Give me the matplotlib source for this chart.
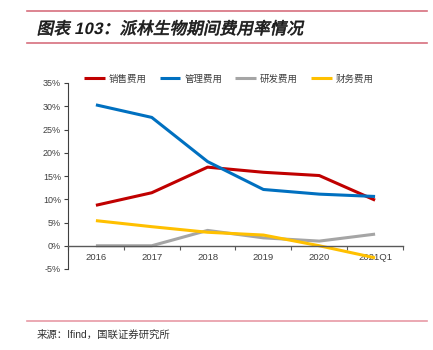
import numpy as np
import matplotlib.pyplot as plt
from matplotlib.textpath import TextPath
from matplotlib.patches import PathPatch
from matplotlib.font_manager import FontProperties
from matplotlib.transforms import Affine2D
from matplotlib.lines import Line2D

plt.rcParams['font.family'] = ['Liberation Sans', 'Noto Sans CJK SC', 'DejaVu Sans']

# data (% of revenue)
years = ['2016', '2017', '2018', '2019', '2020', '2021Q1']
sales = [8.7, 11.4, 16.9, 15.8, 15.1, 9.8]
admin = [30.3, 27.6, 18.1, 12.1, 11.1, 10.6]
rnd = [0.0, 0.0, 3.3, 1.7, 1.0, 2.5]
finance = [5.4, 4.1, 2.9, 2.3, 0.0, -2.6]
names = ['销售费用', '管理费用', '研发费用', '财务费用']
colors = ['#C00000', '#0070C0', '#A5A5A5', '#FFC000']
yticks = [-5, 0, 5, 10, 15, 20, 25, 30, 35]

W, H = 433, 350
fig = plt.figure(figsize=(W / 100, H / 100), dpi=100)
ax = fig.add_axes([68 / W, 1 - 269 / H, (403 - 68) / W, (269 - 83) / H])

x = np.arange(len(years))
for vals, name, c in zip([sales, admin, rnd, finance], names, colors):
    ax.plot(x, vals, color=c, lw=2.2, label=name, solid_capstyle='butt')

ax.set_xlim(-0.5, len(years) - 0.5)
ax.set_ylim(-5, 35)

for s in ['top', 'right']:
    ax.spines[s].set_visible(False)
ax.spines['bottom'].set_position(('data', 0))
ax.spines['bottom'].set_color('#595959')
ax.spines['left'].set_color('#404040')
ax.spines['bottom'].set_linewidth(1.0)
ax.spines['left'].set_linewidth(0.8)

# tick marks on category boundaries, labels at centres
ax.set_xticks(np.arange(-0.5, len(years)))
ax.set_xticklabels([])
ax.set_xticks(x, minor=True)
ax.set_xticklabels(years, minor=True)
ax.tick_params(axis='x', which='major', direction='out', length=3, color='#595959')
ax.tick_params(axis='x', which='minor', length=0, pad=5, labelsize=6.8, labelcolor='#404040')

ax.set_yticks(yticks)
ax.set_yticklabels([f'{v}%' for v in yticks])
ax.tick_params(axis='y', direction='out', length=3, pad=2, labelsize=6.5,
               labelcolor='#404040', color='#404040')

fig.legend(loc='center left', bbox_to_anchor=(80 / W, 1 - 79 / H), ncol=4,
           frameon=False, fontsize=6.8, handlelength=2.2, handletextpad=0.4,
           columnspacing=1.4, labelcolor='#404040', borderaxespad=0)

# title with faked italic, drawn glyph by glyph
title = '图表 103：派林生物期间费用率情况'
cjk = FontProperties(family='Noto Sans CJK SC')
num = FontProperties(family='Liberation Sans', weight='bold')
sz = 16.5
xpos = 38
for ch in title:
    if ch == ' ':
        xpos += 4
        continue
    isnum = ch.isdigit()
    tp = TextPath((0, 0), ch, size=sz, prop=num if isnum else cjk)
    tr = Affine2D().translate(0, -6).skew_deg(12, 0).translate(xpos, H - 28)
    fig.add_artist(PathPatch(tp, transform=tr, facecolor='#1a1a1a',
                             edgecolor='#1a1a1a', lw=0 if isnum else 0.5))
    xpos += (sz * 0.58) if isnum else (sz + 0.2)

# page rules
rule = '#D7707E'
for yy in [11, 43]:
    fig.add_artist(Line2D([27 / W, 427 / W], [1 - yy / H] * 2, color=rule, lw=1.2,
                          transform=fig.transFigure))
fig.add_artist(Line2D([27 / W, 427 / W], [1 - 321 / H] * 2, color='#E79AA5', lw=1.2,
                      transform=fig.transFigure))

fig.text(37 / W, 1 - 335 / H, '来源：Ifind，国联证券研究所', fontsize=7.5,
         va='center', color='#333333')

fig.savefig('out.png', dpi=100)
